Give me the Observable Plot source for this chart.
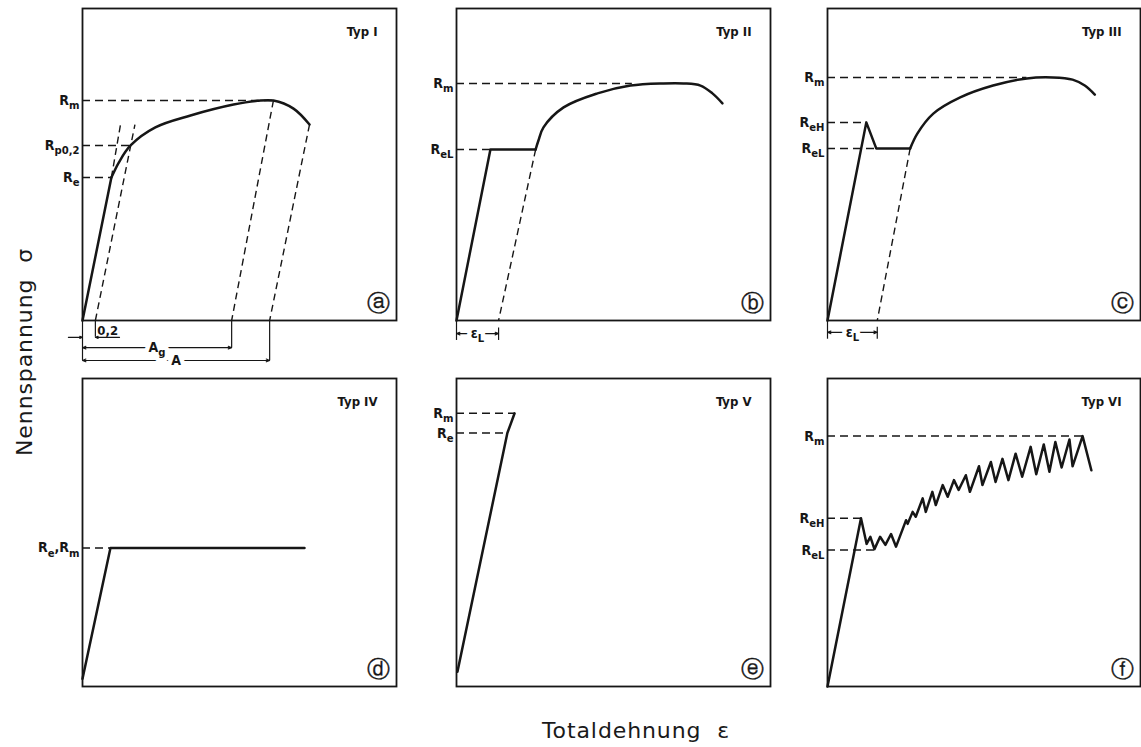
<!DOCTYPE html>
<html><head><meta charset="utf-8">
<script src="https://cdn.jsdelivr.net/npm/d3@7"></script>
<script src="https://cdn.jsdelivr.net/npm/@observablehq/plot@0.6"></script>
<style>
body{margin:0;background:#fff;}
#wrap{position:relative;width:1141px;height:747px;overflow:hidden;background:#fff;}
.ttl{position:absolute;font-family:"DejaVu Sans",sans-serif;font-size:22px;letter-spacing:0.9px;color:#1a1a1a;white-space:pre;line-height:1;}
</style></head><body>
<div id="wrap"></div>
<script>
// ---------- Data (x = relative strain, y = relative stress, both 0–100 per panel) ----------
const typNames = ["Typ I", "Typ II", "Typ III", "Typ IV", "Typ V", "Typ VI"];
const panelLetters = ["ⓐ", "ⓑ", "ⓒ", "ⓓ", "ⓔ", "ⓕ"];
const yTitle = "Nennspannung  σ";
const xTitle = "Totaldehnung  ε";

// Typ I
const typIStraight = [[0,0],[9.2,45.8]];
const typICurve = [[9.2,45.8],[11.6,50.7],[15.3,56.1],[23.2,61.9],[34.4,65.7],[48.1,69.2],[55.7,70.4],[60.8,70.5],[67.2,67.9],[72.3,62.8]];
const typILevels = [["R_{m}",70.5,60.8],["R_{p0,2}",56.1,15.3],["R_{e}",45.8,9.2]];
const typIGuides = [[9.2,45.8,12.1,62.8],[4.1,0,16.7,62.8],[60.8,70.5,47.5,0],[72.3,62.8,59.6,0]];
const typIDims = [["A_{g}",0,47.5,-8.7],["A",0,59.6,-12.8]];
const typITicks = [[0,0,-12.8],[4.1,0,-5.4],[47.5,0,-8.7],[59.6,0,-12.8]];
const typIOffsetLabel = [["0,2",4.1,-5.4]];
const typIOffsetArrows = [[-4.5,-5.4,0,-5.4],[11.8,-5.4,4.1,-5.4]];

// Typ II
const typIIStraight = [[0,0],[10.8,54.8],[25.2,54.8]];
const typIICurve = [[25.2,54.8],[26.1,57.7],[27.7,61.9],[34.1,68.3],[44.9,72.8],[55.4,75.3],[65.9,76.0],[72.3,76.0],[77.7,75.3],[81.5,72.8],[84.7,69.6]];
const typIILevels = [["R_{m}",76.0,56],["R_{eL}",54.8,10.8]];
const typIIGuides = [[25.2,54.8,13.4,0]];
const typIIDims = [["ε_{L}",0,13.4,-4.2]];
const typIITicks = [[0,0,-6.4],[13.4,-2.4,-6.4]];

// Typ III
const typIIIStraight = [[0,0],[12.4,63.5],[15.6,55.1],[26.4,55.1]];
const typIIICurve = [[26.4,55.1],[28.7,59.9],[33.8,66.3],[42.4,71.5],[52.9,75.3],[63.7,77.6],[72.0,77.9],[78.3,77.2],[82.2,75.3],[85.4,72.4]];
const typIIILevels = [["R_{m}",77.9,63.7],["R_{eH}",63.5,12.4],["R_{eL}",55.1,15.6]];
const typIIIGuides = [[26.4,55.1,15.9,0]];
const typIIIDims = [["ε_{L}",0,15.9,-3.8]];
const typIIITicks = [[0,0,-6],[15.9,-2.2,-6]];

// Typ IV
const typIVStraight = [[0,2.5],[8.9,45.0],[70.7,45.0]];
const typIVLevels = [["R_{e},R_{m}",45.0,8.9]];

// Typ V
const typVStraight = [[0.3,4.8],[16.2,82.3],[18.5,88.7]];
const typVLevels = [["R_{m}",88.7,18.5],["R_{e}",82.3,16.2]];

// Typ VI (serrated flow)
const typVIStraight = [[0,0],[10.7,54.6],[12.5,46.3],[13.7,48.6],[15.0,44.6],[16.8,48.6],[18.5,46.0],[20.3,49.5],[21.9,45.4],
  [25.1,54.0],[25.6,52.8],[27.2,56.7],[28.2,55.1],[30.4,61.1],[31.4,56.7],[33.5,63.2],[34.6,58.9],[36.8,65.4],[38.4,61.6],
  [40.4,67.0],[41.9,63.8],[44.2,68.6],[45.5,63.2],[48.4,71.5],[49.5,65.4],[52.2,72.9],[53.7,66.4],[55.9,73.9],[57.8,67.0],
  [60.1,75.6],[62.2,68.1],[64.9,77.8],[66.7,68.9],[69.1,78.6],[70.9,69.7],[72.8,79.4],[74.8,71.1],[77.3,80.2],[78.3,71.5],
  [81.5,81.3],[84.3,70.2]];
const typVILevels = [["R_{m}",81.3,81.5],["R_{eH}",54.6,10.7],["R_{eL}",44.3,15.0]];

// ---------- Layout ----------
const colLeft = [82, 456, 827], colWidth = [314, 314, 313];
const rowTop = [8, 378], rowHeight = [312, 308];
const INK = "#161616";
const ns = "http://www.w3.org/2000/svg";

const panels = [
  {straight: typIStraight, curve: typICurve, levels: typILevels, guides: typIGuides, dims: typIDims, ticks: typITicks, offLabel: typIOffsetLabel, offArrows: typIOffsetArrows},
  {straight: typIIStraight, curve: typIICurve, levels: typIILevels, guides: typIIGuides, dims: typIIDims, ticks: typIITicks},
  {straight: typIIIStraight, curve: typIIICurve, levels: typIIILevels, guides: typIIIGuides, dims: typIIIDims, ticks: typIIITicks},
  {straight: typIVStraight, levels: typIVLevels},
  {straight: typVStraight, levels: typVLevels},
  {straight: typVIStraight, levels: typVILevels}
];

function applySubscripts(svg) {
  for (const el of svg.querySelectorAll("text, tspan")) {
    if (el.children.length) continue;
    const s = el.textContent;
    if (!s.includes("_{")) continue;
    const host = el.closest("[font-size]");
    const fs = host ? parseFloat(host.getAttribute("font-size")) : 13;
    const shift = fs * 0.3;
    el.textContent = "";
    const parts = s.split(/(_\{[^}]*\})/).filter(p => p);
    let low = false;
    for (const p of parts) {
      const t = document.createElementNS(ns, "tspan");
      if (p.startsWith("_{")) {
        t.textContent = p.slice(2, -1);
        t.setAttribute("font-size", fs * 0.8);
        if (!low) t.setAttribute("dy", shift);
        low = true;
      } else {
        t.textContent = p;
        if (low) t.setAttribute("dy", -shift);
        low = false;
      }
      el.appendChild(t);
    }
  }
}

const wrap = document.getElementById("wrap");
const mL = 52, mR = 6, mT = 8, mB = 48;
const X = d => d[0], Y = d => d[1];

panels.forEach((cfg, i) => {
  const col = i % 3, row = Math.floor(i / 3);
  const w = colWidth[col], h = rowHeight[row];
  const marks = [Plot.frame({stroke: INK, strokeWidth: 1.8})];
  if (cfg.ticks) marks.push(Plot.ruleX(cfg.ticks, {x: d => d[0], y1: d => d[1], y2: d => d[2], stroke: INK, strokeWidth: 1.2}));
  if (cfg.guides) marks.push(Plot.link(cfg.guides, {x1: d => d[0], y1: d => d[1], x2: d => d[2], y2: d => d[3], stroke: INK, strokeWidth: 1.4, strokeDasharray: "7,4.5"}));
  marks.push(Plot.ruleY(cfg.levels, {y: d => d[1], x1: () => 0, x2: d => d[2], stroke: INK, strokeWidth: 1.5, strokeDasharray: "8,5"}));
  marks.push(Plot.text(cfg.levels, {x: () => 0, y: d => d[1], text: d => d[0], textAnchor: "end", dx: -3, fontSize: 14, fontWeight: "bold", fill: INK}));
  marks.push(Plot.line(cfg.straight, {x: X, y: Y, stroke: INK, strokeWidth: 2.5, strokeLinejoin: "round"}));
  if (cfg.curve) marks.push(Plot.line(cfg.curve, {x: X, y: Y, curve: "catmull-rom", stroke: INK, strokeWidth: 2.5}));
  if (cfg.dims) {
    const mid = d => (d[1] + d[2]) / 2;
    const arrowOpts = {y1: d => d[3], y2: d => d[3], headLength: 5, headAngle: 45, stroke: INK, strokeWidth: 1.1};
    marks.push(Plot.arrow(cfg.dims, {...arrowOpts, x1: mid, x2: d => d[1]}));
    marks.push(Plot.arrow(cfg.dims, {...arrowOpts, x1: mid, x2: d => d[2]}));
    const textOpts = {x: mid, y: d => d[3], text: d => d[0], fontSize: 14, fontWeight: "bold"};
    marks.push(Plot.text(cfg.dims, {...textOpts, fill: "white", stroke: "white", strokeWidth: 9}));
    marks.push(Plot.text(cfg.dims, {...textOpts, fill: INK}));
  }
  if (cfg.offArrows) marks.push(Plot.arrow(cfg.offArrows, {x1: d => d[0], y1: d => d[1], x2: d => d[2], y2: d => d[3], headLength: 4, headAngle: 45, stroke: INK, strokeWidth: 1.1}));
  if (cfg.offLabel) marks.push(Plot.text(cfg.offLabel, {x: d => d[1], y: d => d[2], text: d => d[0], textAnchor: "start", dx: 2, dy: -7, fontSize: 13, fontWeight: "bold", fill: INK}));
  marks.push(Plot.text([typNames[i]], {text: d => d, frameAnchor: "top-right", dx: -19, dy: 18, fontSize: 13, fontWeight: "bold", fill: INK}));
  marks.push(Plot.text([panelLetters[i]], {text: d => d, frameAnchor: "bottom-right", textAnchor: "middle", lineAnchor: "middle", dx: -18, dy: -17, fontSize: 23, fontFamily: "DejaVu Sans", fill: INK, stroke: INK, strokeWidth: 0.35}));

  const svg = Plot.plot({
    width: mL + w + mR, height: mT + h + mB,
    marginLeft: mL, marginRight: mR, marginTop: mT, marginBottom: mB,
    x: {domain: [0, 100], axis: null},
    y: {domain: [0, 100], axis: null},
    style: {background: "transparent", overflow: "visible", fontFamily: "'DejaVu Sans Condensed','DejaVu Sans',sans-serif"},
    marks
  });
  applySubscripts(svg);
  svg.style.position = "absolute";
  svg.style.left = (colLeft[col] - mL) + "px";
  svg.style.top = (rowTop[row] - mT) + "px";
  svg.style.maxWidth = "none";
  wrap.appendChild(svg);
});

const yt = document.createElement("div");
yt.className = "ttl"; yt.textContent = yTitle;
yt.style.left = "25px"; yt.style.top = "352px";
yt.style.transform = "translate(-50%,-50%) rotate(-90deg)";
wrap.appendChild(yt);

const xt = document.createElement("div");
xt.className = "ttl"; xt.textContent = xTitle;
xt.style.left = "636px"; xt.style.top = "731px";
xt.style.transform = "translate(-50%,-50%)";
wrap.appendChild(xt);
</script>
</body></html>
